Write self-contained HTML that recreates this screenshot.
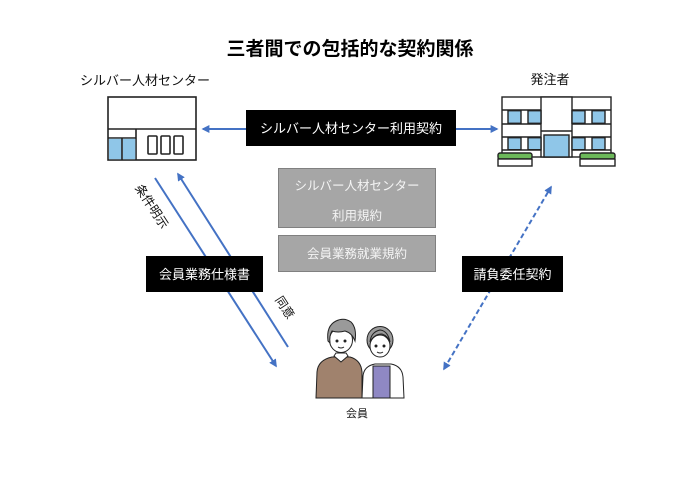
<!DOCTYPE html>
<html><head><meta charset="utf-8">
<style>
html,body{margin:0;padding:0;background:#fff;}
svg{display:block;}
text{font-family:"Liberation Sans","Noto Sans CJK JP",sans-serif;}
</style></head>
<body>
<svg width="700" height="494" viewBox="0 0 700 494" xmlns="http://www.w3.org/2000/svg">
<defs>
<marker id="ah" viewBox="0 0 10 10" refX="8" refY="5" markerWidth="4" markerHeight="4" orient="auto-start-reverse" markerUnits="strokeWidth">
<path d="M0,0 L10,5 L0,10 Z" fill="#4472c4"/>
</marker>
</defs>
<rect width="700" height="494" fill="#fff"/>
<!-- Title -->
<text x="350" y="55" font-size="19" font-weight="bold" text-anchor="middle" fill="#000">三者間での包括的な契約関係</text>

<!-- Labels -->
<text x="145" y="85" font-size="13" text-anchor="middle" fill="#111">シルバー人材センター</text>
<text x="550" y="84" font-size="13" text-anchor="middle" fill="#111">発注者</text>
<text x="357" y="417" font-size="11" text-anchor="middle" fill="#111">会員</text>

<!-- Left building -->
<g stroke="#222" stroke-width="1.6" fill="#fff">
<rect x="108" y="97" width="88" height="63"/>
<line x1="108" y1="129" x2="196" y2="129"/>
<line x1="136" y1="129" x2="136" y2="160"/>
<line x1="108" y1="138" x2="136" y2="138"/>
<rect x="109" y="138.8" width="13" height="20.4" fill="#8fc6e8" stroke="none"/>
<rect x="122.8" y="138.8" width="12.5" height="20.4" fill="#8fc6e8" stroke="none"/>
<line x1="122" y1="138" x2="122" y2="160"/>
<rect x="148" y="136" width="9" height="18" rx="1"/>
<rect x="161" y="136" width="9" height="18" rx="1"/>
<rect x="174" y="136" width="9" height="18" rx="1"/>
</g>

<!-- Right building -->
<g stroke="#222" stroke-width="1.4" fill="#fff">
<rect x="502" y="97" width="109" height="60"/>
<rect x="541" y="97" width="31" height="60"/>
<line x1="502" y1="110" x2="541" y2="110"/>
<line x1="502" y1="124" x2="541" y2="124"/>
<line x1="502" y1="137" x2="541" y2="137"/>
<line x1="502" y1="150" x2="541" y2="150"/>
<rect x="508" y="110.7" width="13" height="12.6" fill="#8fc6e8"/>
<rect x="528" y="110.7" width="13" height="12.6" fill="#8fc6e8"/>
<rect x="508" y="137.7" width="13" height="12" fill="#8fc6e8"/>
<rect x="528" y="137.7" width="13" height="12" fill="#8fc6e8"/>
<line x1="572" y1="110" x2="611" y2="110"/>
<line x1="572" y1="124" x2="611" y2="124"/>
<line x1="572" y1="137" x2="611" y2="137"/>
<line x1="572" y1="150" x2="611" y2="150"/>
<rect x="572" y="110.7" width="13" height="12.6" fill="#8fc6e8"/>
<rect x="592" y="110.7" width="13" height="12.6" fill="#8fc6e8"/>
<rect x="572" y="137.7" width="13" height="12" fill="#8fc6e8"/>
<rect x="592" y="137.7" width="13" height="12" fill="#8fc6e8"/>
<line x1="541" y1="131" x2="572" y2="131"/>
<rect x="544" y="135" width="25" height="22" fill="#8fc6e8"/>
<rect x="498" y="153" width="34" height="6" rx="2" fill="#6cb85a"/>
<rect x="498" y="159" width="34" height="7" fill="#fff"/>
<rect x="580" y="153" width="35" height="6" rx="2" fill="#6cb85a"/>
<rect x="580" y="159" width="35" height="7" fill="#fff"/>
</g>

<!-- Top arrows -->
<line x1="246" y1="129" x2="203" y2="129" stroke="#4472c4" stroke-width="2" marker-end="url(#ah)"/>
<line x1="456" y1="129" x2="497" y2="129" stroke="#4472c4" stroke-width="2" marker-end="url(#ah)"/>
<rect x="246" y="110" width="210" height="36" fill="#000"/>
<text x="351" y="133" font-size="13" text-anchor="middle" fill="#fff">シルバー人材センター利用契約</text>

<!-- Gray boxes -->
<rect x="278.5" y="168.5" width="157" height="59" fill="#a6a6a6" stroke="#808080" stroke-width="1"/>
<text x="357" y="190" font-size="12.5" text-anchor="middle" fill="#f4f4f4">シルバー人材センター</text>
<text x="357" y="220" font-size="12.5" text-anchor="middle" fill="#f4f4f4">利用規約</text>
<rect x="278.5" y="235.5" width="157" height="36" fill="#a6a6a6" stroke="#808080" stroke-width="1"/>
<text x="357" y="258" font-size="12.5" text-anchor="middle" fill="#f4f4f4">会員業務就業規約</text>

<!-- Left diagonal arrows -->
<line x1="155" y1="178" x2="276" y2="366" stroke="#4472c4" stroke-width="2" marker-end="url(#ah)"/>
<line x1="288" y1="347" x2="178" y2="174" stroke="#4472c4" stroke-width="2" marker-end="url(#ah)"/>
<text transform="translate(151,207) rotate(57)" font-size="12.5" text-anchor="middle" dominant-baseline="middle" fill="#111">条件明示</text>
<text transform="translate(284,308) rotate(57)" font-size="12" text-anchor="middle" dominant-baseline="middle" fill="#111">同意</text>
<rect x="146" y="256" width="117" height="36" fill="#000"/>
<text x="204.5" y="279" font-size="13" text-anchor="middle" fill="#fff">会員業務仕様書</text>

<!-- Right dashed arrow -->
<line x1="444" y1="369" x2="551" y2="187" stroke="#4472c4" stroke-width="2" stroke-dasharray="5,3" marker-start="url(#ah)" marker-end="url(#ah)"/>
<rect x="462" y="256" width="101" height="36" fill="#000"/>
<text x="512.5" y="279" font-size="13" text-anchor="middle" fill="#fff">請負委任契約</text>

<!-- People -->
<g stroke="#222" stroke-width="1">
<path d="M362,398 L363,376 Q364,366 375,364 L391,364 Q402,366 403,377 L404,398 Z" fill="#fff"/>
<path d="M373,366 L390,366 L390,398 L373,398 Z" fill="#8f88c4"/>
<path d="M316,398 L317,372 Q318,360 332,357 L350,357 Q361,360 362,372 L362,398 Z" fill="#a0826d"/>
<path d="M334,356 L341,362 L348,356 L346,353 L336,353 Z" fill="#fff"/>
<ellipse cx="341" cy="340" rx="11.5" ry="12.5" fill="#fff"/>
<path d="M328,341 Q326,326 336,321 Q344,317 351,322 Q357,328 355,341 Q352,333 345,331 Q338,333 332,331 Q329,336 330,343 Z" fill="#9a9a9a"/>
<circle cx="337" cy="341" r="1" fill="#222"/>
<circle cx="345" cy="341" r="1" fill="#222"/>
<path d="M338,347 Q341,349 344,347" fill="none"/>
<ellipse cx="380" cy="340" rx="13" ry="13.5" fill="#9a9a9a"/>
<ellipse cx="380" cy="346" rx="10" ry="11" fill="#fff"/>
<path d="M370,342 Q374,334 382,334 Q388,336 390,342 Q388,331 380,330 Q371,332 370,342 Z" fill="#9a9a9a"/>
<circle cx="376" cy="346" r="1" fill="#222"/>
<circle cx="384" cy="346" r="1" fill="#222"/>
<path d="M377,352 Q380,354 383,352" fill="none"/>
</g>
</svg>
</body></html>
